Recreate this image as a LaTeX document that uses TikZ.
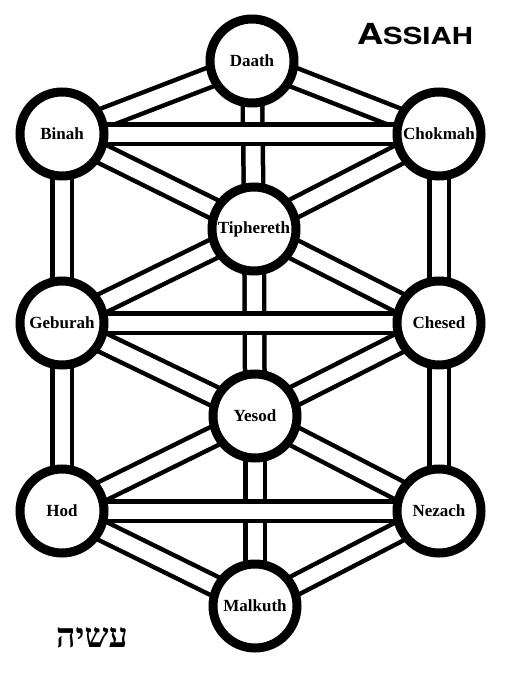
\documentclass[tikz,border=0pt]{standalone}
\usepackage{fontspec}
\setmainfont{Liberation Serif}
\setsansfont{TeX Gyre Heros}
\newfontfamily\hebfont[Script=Hebrew]{Liberation Serif}
\TeXXeTstate=1
\usetikzlibrary{backgrounds}

\begin{document}
\begin{tikzpicture}[
 x=1pt,y=-1pt,
 sefira/.style={circle,draw=black,line width=9pt,fill=white,minimum size=84pt,
   inner sep=0pt,font=\fontsize{17}{18}\selectfont\bfseries},
 pathway/.style={draw=black,line width=4.5pt,double=white,double distance=15pt},
 title/.style={font=\sffamily\bfseries,anchor=base}]
\path[use as bounding box] (0,0) rectangle (504,693);

% the ten spheres and Daath
\node[sefira] (daath)   at (252,61)  {Daath};
\node[sefira] (binah)   at (62,134)  {Binah};
\node[sefira] (chokmah) at (439,134) {Chokmah};
\node[sefira] (tiph)    at (254,229) {Tiphereth};
\node[sefira] (geburah) at (62,323)  {Geburah};
\node[sefira] (chesed)  at (439,323) {Chesed};
\node[sefira] (yesod)   at (255,416) {Yesod};
\node[sefira] (hod)     at (62,511)  {Hod};
\node[sefira] (nezach)  at (439,511) {Nezach};
\node[sefira] (malkuth) at (255,606) {Malkuth};

\begin{pgfonlayer}{background}
 % pillars
 \foreach \a/\b in {daath/tiph,tiph/yesod,yesod/malkuth,binah/geburah,
   geburah/hod,chokmah/chesed,chesed/nezach}
   \draw[pathway] (\a.center) -- (\b.center);
 % diagonals
 \foreach \a/\b in {daath/binah,daath/chokmah,binah/tiph,chokmah/tiph,
   tiph/geburah,tiph/chesed,geburah/yesod,chesed/yesod,yesod/hod,
   yesod/nezach,hod/malkuth,nezach/malkuth}
   \draw[pathway] (\a.center) -- (\b.center);
 % horizontals
 \foreach \a/\b in {binah/chokmah,geburah/chesed,hod/nezach}
   \draw[pathway] (\a.center) -- (\b.center);
\end{pgfonlayer}

\node[title] (world) at (415,45)
  {\scalebox{1.25}[1]{{\fontsize{29}{30}\selectfont A}{\fontsize{23.5}{24}\selectfont SSIAH}}};
\node (hebrew) at (92,638)
  {\hebfont\bfseries\fontsize{34}{36}\selectfont\beginR עשיה\endR};
\end{tikzpicture}
\end{document}
